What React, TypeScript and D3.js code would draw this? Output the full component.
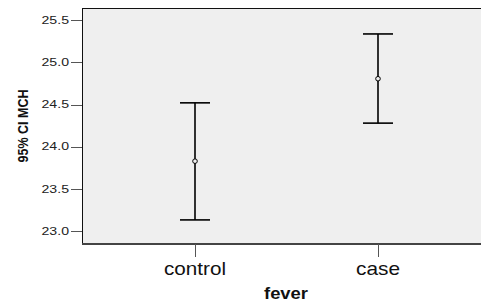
import React from 'react';
import * as d3 from 'd3';

const groups = ["control", "case"];
const means = [23.83, 24.805];
const lowers = [23.135, 24.28];
const uppers = [24.52, 25.335];
const yTicks = [23.0, 23.5, 24.0, 24.5, 25.0, 25.5];

const W = 481;
const H = 304;
const frame = { left: 82, top: 8, right: 481, bottom: 244 };

export default function App() {
  const y = d3.scaleLinear().domain([22.85, 25.642]).range([frame.bottom, frame.top]);
  const x = d3.scalePoint<string>().domain(groups).range([195, 378]);
  const font = "Arial, 'Liberation Sans', sans-serif";

  return (
    <svg width={W} height={H} style={{ position: 'absolute', left: 0, top: 0 }} fontFamily={font}>
      <rect x={0} y={0} width={W} height={H} fill="#fff" />
      <rect x={frame.left} y={frame.top} width={frame.right - frame.left} height={frame.bottom - frame.top} fill="#efefef" />
      <line x1={frame.left} x2={frame.right} y1={frame.top + 0.5} y2={frame.top + 0.5} stroke="#111" />
      <line x1={frame.left + 0.5} x2={frame.left + 0.5} y1={frame.top} y2={frame.bottom} stroke="#111" />
      <line x1={frame.left} x2={frame.right} y1={frame.bottom} y2={frame.bottom} stroke="#444" strokeWidth={2} />

      {yTicks.map(t => (
        <g key={t}>
          <line x1={71} x2={frame.left} y1={Math.round(y(t)) + 0.5} y2={Math.round(y(t)) + 0.5} stroke="#555" />
          <text x={69} y={y(t)} dy="0.36em" textAnchor="end" fontSize={10} fill="#222"
            textLength={27.5} lengthAdjust="spacingAndGlyphs">{t.toFixed(1)}</text>
        </g>
      ))}

      {groups.map(g => (
        <g key={g}>
          <line x1={Math.round(x(g)!) + 0.5} x2={Math.round(x(g)!) + 0.5} y1={frame.bottom} y2={257} stroke="#555" />
          <text x={x(g)} y={275} textAnchor="middle" fontSize={18.5} fill="#111"
            textLength={g === "control" ? 62 : 44} lengthAdjust="spacingAndGlyphs">{g}</text>
        </g>
      ))}

      {groups.map((g, i) => {
        const cx = x(g)!;
        return (
          <g key={g} stroke="#000" strokeWidth={1.6}>
            <line x1={cx} x2={cx} y1={y(uppers[i])} y2={y(lowers[i])} />
            <line x1={cx - 15} x2={cx + 15} y1={y(uppers[i])} y2={y(uppers[i])} />
            <line x1={cx - 15} x2={cx + 15} y1={y(lowers[i])} y2={y(lowers[i])} />
            <circle cx={cx} cy={y(means[i])} r={2.3} fill="#efefef" strokeWidth={1} />
          </g>
        );
      })}

      <text x={286} y={299} textAnchor="middle" fontSize={16} fontWeight="bold" fill="#111"
        textLength={44} lengthAdjust="spacingAndGlyphs">fever</text>
      <text transform={`translate(27.5,126) rotate(-90)`} textAnchor="middle" fontSize={14} fontWeight="bold" fill="#111"
        textLength={73} lengthAdjust="spacingAndGlyphs">95% CI MCH</text>
    </svg>
  );
}
